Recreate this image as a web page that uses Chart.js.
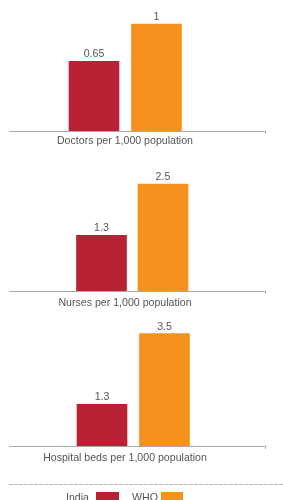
<!DOCTYPE html>
<html>
<head>
<meta charset="utf-8">
<script src="https://cdn.jsdelivr.net/npm/chart.js@4.4.1/dist/chart.umd.min.js"></script>
<style>
  body { margin: 0; background: #fff; font-family: 'Liberation Sans', Arial, sans-serif; }
  #wrap { position: relative; width: 283px; height: 500px; overflow: hidden; }
  canvas { position: absolute; left: 0; }
  .caption { position: absolute; left: 0; width: 250px; text-align: center; font-size: 10.6px; line-height: 12px; color: #555; }
  .dash { position: absolute; left: 9px; top: 484px; width: 274px; height: 1px;
          background: repeating-linear-gradient(to right, #b8b8b8 0 4px, transparent 4px 5px); }
  .legend { position: absolute; top: 491px; left: 0; width: 283px; height: 20px; font-size: 10.6px; line-height: 12px; color: #555; }
  .legend span { position: absolute; }
  .sw { height: 10px; top: 1px; }
</style>
</head>
<body>
<div id="wrap">
  <canvas id="c1" width="283" height="136" style="top:0px"></canvas>
  <div class="caption" id="cap1" style="top:134px"></div>
  <canvas id="c2" width="283" height="136" style="top:160px"></canvas>
  <div class="caption" id="cap2" style="top:296px"></div>
  <canvas id="c3" width="283" height="141" style="top:310px"></canvas>
  <div class="caption" id="cap3" style="top:451px"></div>
  <div class="dash"></div>
  <div class="legend">
    <span id="lg0" style="left:66px"></span>
    <span class="sw" style="left:96px;width:23px;background:#b82234"></span>
    <span id="lg1" style="left:132px"></span>
    <span class="sw" style="left:161px;width:22px;background:#f7911e"></span>
  </div>
</div>
<script>
// data
const categories = ['India', 'WHO'];
const doctors = [0.65, 1];
const nurses = [1.3, 2.5];
const beds = [1.3, 3.5];
const captions = ['Doctors per 1,000 population', 'Nurses per 1,000 population', 'Hospital beds per 1,000 population'];

const colors = ['#b82234', '#f7911e'];

// value labels above bars
const valueLabels = {
  id: 'valueLabels',
  afterDatasetsDraw(chart) {
    const ctx = chart.ctx;
    const meta = chart.getDatasetMeta(0);
    ctx.save();
    ctx.font = '10.6px "Liberation Sans", Arial, sans-serif';
    ctx.fillStyle = '#555';
    ctx.textAlign = 'center';
    meta.data.forEach((bar, i) => {
      ctx.fillText(String(chart.data.datasets[0].data[i].y), bar.x, bar.y - 4);
    });
    ctx.restore();
  }
};

function makeChart(id, values, xMin, xMax, yMax) {
  return new Chart(document.getElementById(id), {
    type: 'bar',
    data: {
      datasets: [{
        data: values.map((v, i) => ({ x: i, y: v })),
        backgroundColor: colors,
        borderWidth: 0,
        barThickness: 50
      }]
    },
    options: {
      responsive: false,
      animation: false,
      layout: { padding: { left: 9, right: 18, top: 0, bottom: 2 } },
      plugins: { legend: { display: false }, tooltip: { enabled: false } },
      scales: {
        x: {
          type: 'linear', min: xMin, max: xMax, offset: false,
          // only a small tick mark at the right end of the baseline
          afterBuildTicks: (scale) => { scale.ticks = [{ value: scale.max }]; },
          ticks: { display: false },
          grid: { display: true, offset: false, drawOnChartArea: false, drawTicks: true, tickLength: 3, color: '#a8a8a8' },
          border: { display: true, color: '#a8a8a8', width: 1 }
        },
        y: { display: false, min: 0, max: yMax }
      }
    },
    plugins: [valueLabels]
  });
}

makeChart('c1', doctors, -1.36, 2.736, 131 / 107);
makeChart('c2', nurses, -1.504, 2.659, 131 / 42.8);
makeChart('c3', beds, -1.488, 2.608, 136 / 32.1);

document.getElementById('cap1').textContent = captions[0];
document.getElementById('cap2').textContent = captions[1];
document.getElementById('cap3').textContent = captions[2];
document.getElementById('lg0').textContent = categories[0];
document.getElementById('lg1').textContent = categories[1];
</script>
</body>
</html>
